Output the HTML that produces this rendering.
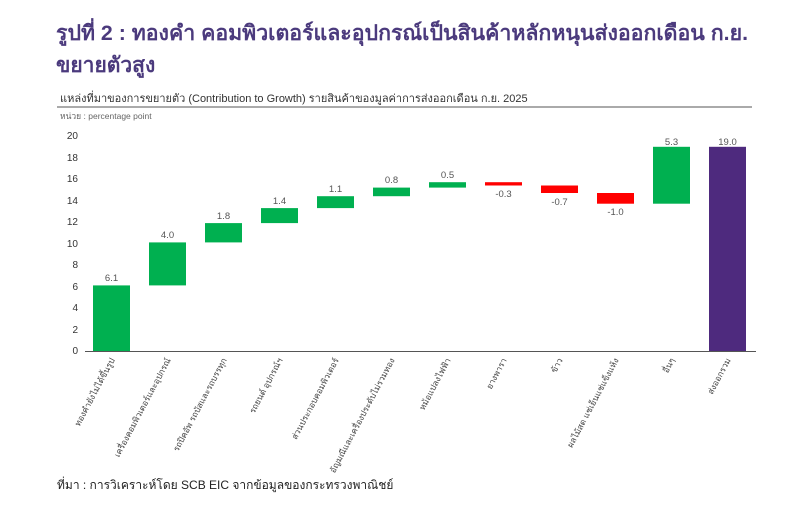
<!DOCTYPE html>
<html><head><meta charset="utf-8"><style>
body{margin:0;background:#fff;width:800px;height:501px;overflow:hidden;font-family:"Liberation Sans","Noto Sans CJK SC",sans-serif}
</style></head><body>
<svg width="800" height="501" xmlns="http://www.w3.org/2000/svg" font-family="Liberation Sans, Noto Sans CJK SC, sans-serif">
<text x="56" y="40" font-size="21" font-weight="bold" fill="#4b3a7d" textLength="692" lengthAdjust="spacingAndGlyphs">รูปที่ 2 : ทองคำ คอมพิวเตอร์และอุปกรณ์เป็นสินค้าหลักหนุนส่งออกเดือน ก.ย.</text>
<text x="56" y="72" font-size="21" font-weight="bold" fill="#4b3a7d">ขยายตัวสูง</text>
<text x="60" y="102" font-size="11" fill="#333">แหล่งที่มาของการขยายตัว (Contribution to Growth) รายสินค้าของมูลค่าการส่งออกเดือน ก.ย. 2025</text>
<line x1="57" y1="107" x2="752" y2="107" stroke="#555" stroke-width="1"/>
<text x="60" y="119" font-size="8.5" fill="#666">หน่วย : percentage point</text>
<g font-size="10" fill="#333" text-anchor="end">
<text x="78" y="354">0</text><text x="78" y="333">2</text><text x="78" y="311">4</text><text x="78" y="290">6</text><text x="78" y="268">8</text><text x="78" y="247">10</text><text x="78" y="225">12</text><text x="78" y="204">14</text><text x="78" y="182">16</text><text x="78" y="161">18</text><text x="78" y="139">20</text>
</g>
<line x1="85" y1="351.5" x2="756" y2="351.5" stroke="#555" stroke-width="1"/>
<g>
<rect x="93" y="285.4" width="37" height="65.6" fill="#00b050"/>
<rect x="149" y="242.4" width="37" height="43" fill="#00b050"/>
<rect x="205" y="223.1" width="37" height="19.3" fill="#00b050"/>
<rect x="261" y="208.1" width="37" height="15" fill="#00b050"/>
<rect x="317" y="196.2" width="37" height="11.9" fill="#00b050"/>
<rect x="373" y="187.6" width="37" height="8.6" fill="#00b050"/>
<rect x="429" y="182.2" width="37" height="5.4" fill="#00b050"/>
<rect x="485" y="182.2" width="37" height="3.3" fill="#ff0000"/>
<rect x="541" y="185.5" width="37" height="7.5" fill="#ff0000"/>
<rect x="597" y="193" width="37" height="10.7" fill="#ff0000"/>
<rect x="653" y="146.8" width="37" height="56.9" fill="#00b050"/>
<rect x="709" y="146.8" width="37" height="204.2" fill="#4e2a7e"/>
</g>
<g font-size="9.5" fill="#555" text-anchor="middle">
<text x="111.5" y="281">6.1</text><text x="167.5" y="238">4.0</text><text x="223.5" y="219">1.8</text><text x="279.5" y="204">1.4</text><text x="335.5" y="192">1.1</text><text x="391.5" y="183">0.8</text><text x="447.5" y="178">0.5</text>
<text x="503.5" y="197">-0.3</text><text x="559.5" y="205">-0.7</text><text x="615.5" y="215">-1.0</text><text x="671.5" y="145">5.3</text><text x="727.5" y="145">19.0</text>
</g>
<g font-size="8.5" fill="#444" text-anchor="end">
<text transform="translate(115,360) rotate(-62)">ทองคำยังไม่ได้ขึ้นรูป</text>
<text transform="translate(171,360) rotate(-62)">เครื่องคอมพิวเตอร์และอุปกรณ์</text>
<text transform="translate(227,360) rotate(-62)">รถปิคอัพ รถบัสและรถบรรทุก</text>
<text transform="translate(283,360) rotate(-62)">รถยนต์ อุปกรณ์ฯ</text>
<text transform="translate(339,360) rotate(-62)">ส่วนประกอบคอมพิวเตอร์</text>
<text transform="translate(395,360) rotate(-62)">อัญมณีและเครื่องประดับไม่รวมทอง</text>
<text transform="translate(451,360) rotate(-62)">หม้อแปลงไฟฟ้า</text>
<text transform="translate(507,360) rotate(-62)">ยางพารา</text>
<text transform="translate(563,360) rotate(-62)">ข้าว</text>
<text transform="translate(619,360) rotate(-62)">ผลไม้สด แช่เย็นแช่แข็งแห้ง</text>
<text transform="translate(675,360) rotate(-62)">อื่นๆ</text>
<text transform="translate(731,360) rotate(-62)">ส่งออกรวม</text>
</g>
<text x="57" y="489" font-size="12" fill="#222">ที่มา : การวิเคราะห์โดย SCB EIC จากข้อมูลของกระทรวงพาณิชย์</text>
</svg>
</body></html>
